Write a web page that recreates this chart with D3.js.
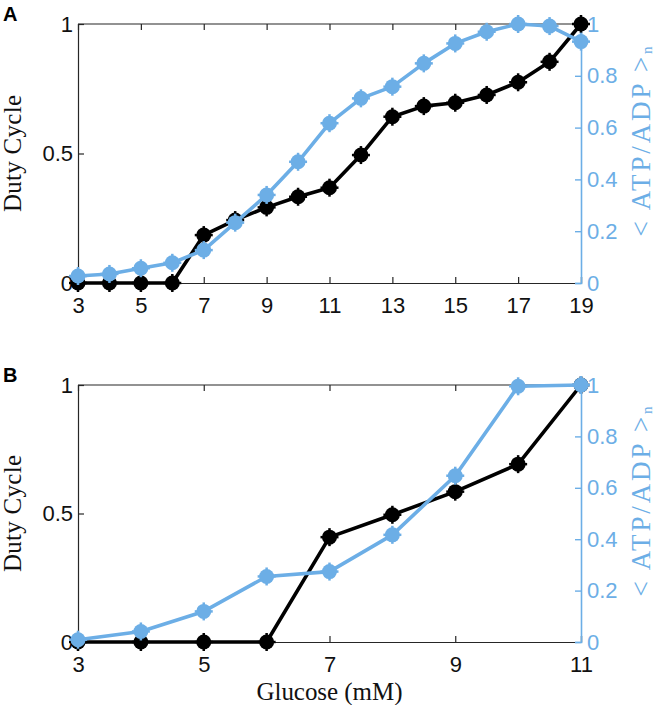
<!DOCTYPE html>
<html>
<head>
<meta charset="utf-8">
<script src="https://cdn.jsdelivr.net/npm/d3@7"></script>
<style>
  html, body { margin: 0; padding: 0; background: #fff; }
  svg { display: block; }
</style>
</head>
<body>
<svg id="chart" width="660" height="705"></svg>
<script>
// ---------- data ----------
const glucoseA = [3,4,5,6,7,8,9,10,11,12,13,14,15,16,17,18,19];
const dutyA    = [0,0,0,0,0.185,0.243,0.292,0.333,0.368,0.494,0.642,0.683,0.696,0.726,0.775,0.854,1.0];
const atpA     = [0.027,0.035,0.057,0.078,0.127,0.233,0.34,0.468,0.617,0.713,0.758,0.848,0.925,0.970,1.0,0.992,0.932];

const glucoseB = [3,4,5,6,7,8,9,10,11];
const dutyB    = [0,0,0,0,0.408,0.495,0.585,0.692,1.0];
const atpB     = [0.009,0.041,0.119,0.255,0.274,0.417,0.647,0.995,1.0];

const xTicksA = [3,5,7,9,11,13,15,17,19];
const xTicksB = [3,5,7,9,11];
const leftTicks  = [0,0.5,1];
const rightTicks = [0,0.2,0.4,0.6,0.8,1];

const panels = [
  {label:"A", x:glucoseA, duty:dutyA, atp:atpA, xdom:[3,19], xticks:xTicksA, top:24, bottom:283, xlabel:false},
  {label:"B", x:glucoseB, duty:dutyB, atp:atpB, xdom:[3,11], xticks:xTicksB, top:385, bottom:642, xlabel:true}
];

// ---------- style ----------
const BLUE = "#6caee6";
const LEFT = 78, RIGHT = 581;
const SANS = "'Liberation Sans', Arial, Helvetica, sans-serif";
const SERIF = "'Liberation Serif', 'Times New Roman', serif";

const svg = d3.select("#chart");

function fmt(d){ return d === 0 ? "0" : d === 1 ? "1" : String(d); }

panels.forEach(p => {
  const x = d3.scaleLinear().domain(p.xdom).range([LEFT, RIGHT]);
  const yL = d3.scaleLinear().domain([0,1]).range([p.bottom, p.top]);
  const yR = d3.scaleLinear().domain([0,1]).range([p.bottom, p.top]);
  const g = svg.append("g");

  // box top line
  g.append("line").attr("x1",LEFT).attr("x2",RIGHT).attr("y1",p.top).attr("y2",p.top)
    .attr("stroke","#262626").attr("stroke-width",1.2);

  // bottom axis (ticks inward)
  const xb = d3.axisBottom(x).tickValues(p.xticks).tickSize(-6).tickPadding(12).tickFormat(fmt);
  const gx = g.append("g").attr("transform",`translate(0,${p.bottom})`).call(xb);
  gx.select(".domain").attr("stroke","#262626").attr("stroke-width",1.2);
  gx.selectAll(".tick line").attr("stroke","#262626").attr("stroke-width",1.2);
  gx.selectAll(".tick text").attr("font-family",SANS).attr("font-size",22).attr("fill","#111")
    .attr("dy","0.71em").attr("y",14);

  // top axis ticks (inward)
  const xt = d3.axisTop(x).tickValues(p.xticks).tickSize(-6).tickFormat("");
  const gxt = g.append("g").attr("transform",`translate(0,${p.top})`).call(xt);
  gxt.select(".domain").remove();
  gxt.selectAll(".tick line").attr("stroke","#262626").attr("stroke-width",1.2);

  // left axis
  const yl = d3.axisLeft(yL).tickValues(leftTicks).tickSize(-6).tickPadding(5).tickFormat(fmt);
  const gyl = g.append("g").attr("transform",`translate(${LEFT},0)`).call(yl);
  gyl.select(".domain").attr("stroke","#262626").attr("stroke-width",1.2);
  gyl.selectAll(".tick line").attr("stroke","#262626").attr("stroke-width",1.2);
  gyl.selectAll(".tick text").attr("font-family",SANS).attr("font-size",22).attr("fill","#111");

  // right axis
  const yr = d3.axisRight(yR).tickValues(rightTicks).tickSize(-6).tickPadding(6).tickFormat(fmt);
  const gyr = g.append("g").attr("transform",`translate(${RIGHT},0)`).call(yr);
  gyr.select(".domain").attr("stroke",BLUE).attr("stroke-width",1.6);
  gyr.selectAll(".tick line").attr("stroke",BLUE).attr("stroke-width",1.4);
  gyr.selectAll(".tick text").attr("font-family",SANS).attr("font-size",22).attr("fill",BLUE);

  // series
  function series(vals, yScale, color){
    const pts = p.x.map((xv,i)=>[xv, vals[i]]);
    const line = d3.line().x(d=>x(d[0])).y(d=>yScale(d[1]));
    g.append("path").datum(pts).attr("d",line).attr("fill","none")
      .attr("stroke",color).attr("stroke-width",3.6).attr("stroke-linejoin","round");
    const m = g.append("g").selectAll("g").data(pts).join("g")
      .attr("transform",d=>`translate(${x(d[0])},${yScale(d[1])})`);
    m.append("line").attr("x1",0).attr("x2",0).attr("y1",-9).attr("y2",9)
      .attr("stroke",color).attr("stroke-width",2.5);
    m.append("line").attr("x1",-9).attr("x2",9).attr("y1",0).attr("y2",0)
      .attr("stroke",color).attr("stroke-width",2.5);
    m.append("circle").attr("r",7.5).attr("fill",color);
  }
  series(p.duty, yL, "#000");
  series(p.atp, yR, BLUE);

  // left label
  const cy = (p.top + p.bottom)/2;
  g.append("text").attr("transform",`translate(21,${cy}) rotate(-90)`)
    .attr("text-anchor","middle").attr("font-family",SERIF).attr("font-size",25).attr("fill","#111")
    .attr("textLength",117).attr("lengthAdjust","spacing")
    .text("Duty Cycle");

  // right label
  const rl = g.append("text").attr("transform",`translate(650,${cy-12}) rotate(-90)`)
    .attr("text-anchor","middle").attr("font-family",SERIF).attr("font-size",27).attr("fill",BLUE)
    .attr("textLength",190).attr("lengthAdjust","spacing");
  rl.append("tspan").text("< ATP/ADP >");
  rl.append("tspan").attr("font-size",15).attr("dy",2).text("n");

  // panel letter
  g.append("text").attr("x",3).attr("y",p.top-3).attr("font-family",SANS).attr("font-weight","bold")
    .attr("font-size",20).attr("fill","#000").text(p.label);

  if (p.xlabel){
    g.append("text").attr("x",(LEFT+RIGHT)/2).attr("y",700).attr("text-anchor","middle")
      .attr("font-family",SERIF).attr("font-size",25).attr("fill","#111")
      .attr("textLength",146).attr("lengthAdjust","spacing").text("Glucose (mM)");
  }
});
</script>
</body>
</html>
